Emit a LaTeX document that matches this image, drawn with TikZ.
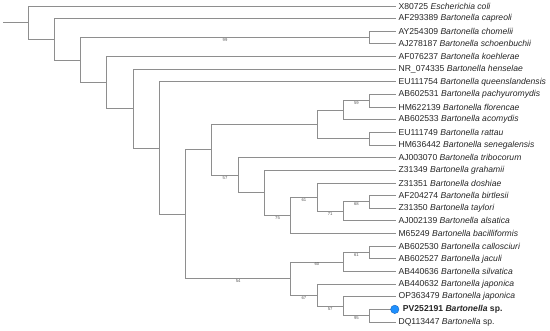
\documentclass[tikz,border=0pt]{standalone}
\usepackage{fontspec}
\setmainfont{Liberation Sans}
\definecolor{branch}{HTML}{8E8E8E}
\definecolor{txt}{HTML}{262626}
\definecolor{sup}{HTML}{5A5A5A}
\definecolor{dotfill}{HTML}{1E90FF}
\definecolor{dotline}{HTML}{1565C0}
\begin{document}
\begin{tikzpicture}[x=1pt,y=-1pt,
  br/.style={draw=branch,line width=0.9pt},
  leaf/.style={anchor=west,inner sep=2.6pt,text=txt,font=\fontsize{8.6}{10}\selectfont},
  supv/.style={pos=0.75,anchor=north,inner sep=0.6pt,text=sup,font=\fontsize{4.2}{5}\selectfont}]
\useasboundingbox (0,0) rectangle (550,330);
% leaf end points
\coordinate (l0) at (395.78,6.00);
\coordinate (l1) at (395.78,18.64);
\coordinate (l2) at (395.78,31.28);
\coordinate (l3) at (395.78,43.92);
\coordinate (l4) at (395.78,56.56);
\coordinate (l5) at (395.78,69.20);
\coordinate (l6) at (395.78,81.84);
\coordinate (l7) at (395.78,94.48);
\coordinate (l8) at (395.78,107.12);
\coordinate (l9) at (395.78,119.76);
\coordinate (l10) at (395.78,132.40);
\coordinate (l11) at (395.78,145.04);
\coordinate (l12) at (395.78,157.68);
\coordinate (l13) at (395.78,170.32);
\coordinate (l14) at (395.78,182.96);
\coordinate (l15) at (395.78,195.60);
\coordinate (l16) at (395.78,208.24);
\coordinate (l17) at (395.78,220.88);
\coordinate (l18) at (395.78,233.52);
\coordinate (l19) at (395.78,246.16);
\coordinate (l20) at (395.78,258.80);
\coordinate (l21) at (395.78,271.44);
\coordinate (l22) at (395.78,284.08);
\coordinate (l23) at (395.78,296.72);
\coordinate (l24) at (395.78,309.36);
\coordinate (l25) at (395.78,322.00);
% internal nodes
\coordinate (cs) at (369.51,37.60);
\coordinate (pf) at (369.51,100.80);
\coordinate (rs) at (369.51,138.72);
\coordinate (bt) at (369.51,201.92);
\coordinate (cj) at (369.51,252.48);
\coordinate (pd) at (369.51,315.68);
\coordinate (pfa) at (343.24,110.28);
\coordinate (bta) at (343.24,211.40);
\coordinate (cjs) at (343.24,261.96);
\coordinate (opd) at (343.24,306.20);
\coordinate (rod) at (316.97,124.50);
\coordinate (dbta) at (316.97,197.18);
\coordinate (jopd) at (316.97,295.14);
\coordinate (alsb) at (290.70,215.35);
\coordinate (bot) at (290.70,278.55);
\coordinate (gr) at (264.43,192.84);
\coordinate (tr) at (238.16,175.26);
\coordinate (n212) at (211.89,149.88);
\coordinate (n186) at (185.62,214.20);
\coordinate (n160) at (159.35,148.02);
\coordinate (n134) at (133.08,108.61);
\coordinate (n107) at (106.81,82.59);
\coordinate (n81) at (80.54,60.10);
\coordinate (n55) at (54.27,39.37);
\coordinate (n28) at (28.00,22.68);
\coordinate (root) at (3.00,22.68);
% branches
\draw[br] (root) -- (n28);
\draw[br] (n28) |- (l0);
\draw[br] (n28) |- (n55);
\draw[br] (n55) |- (l1);
\draw[br] (n55) |- (n81);
\draw[br] (n81) |- node[supv]{99} (cs);
\draw[br] (n81) |- (n107);
\draw[br] (cs) |- (l2);
\draw[br] (cs) |- (l3);
\draw[br] (n107) |- (l4);
\draw[br] (n107) |- (n134);
\draw[br] (n134) |- (l5);
\draw[br] (n134) |- (n160);
\draw[br] (n160) |- (l6);
\draw[br] (n160) |- (n186);
\draw[br] (n186) |- (n212);
\draw[br] (n186) |- node[supv]{54} (bot);
\draw[br] (n212) |- (rod);
\draw[br] (n212) |- node[supv]{57} (tr);
\draw[br] (rod) |- (pfa);
\draw[br] (rod) |- (rs);
\draw[br] (pfa) |- node[supv]{59} (pf);
\draw[br] (pfa) |- (l9);
\draw[br] (pf) |- (l7);
\draw[br] (pf) |- (l8);
\draw[br] (rs) |- (l10);
\draw[br] (rs) |- (l11);
\draw[br] (tr) |- (l12);
\draw[br] (tr) |- (gr);
\draw[br] (gr) |- (l13);
\draw[br] (gr) |- node[supv]{75} (alsb);
\draw[br] (alsb) |- node[supv]{61} (dbta);
\draw[br] (alsb) |- (l18);
\draw[br] (dbta) |- (l14);
\draw[br] (dbta) |- node[supv]{71} (bta);
\draw[br] (bta) |- node[supv]{68} (bt);
\draw[br] (bta) |- (l17);
\draw[br] (bt) |- (l15);
\draw[br] (bt) |- (l16);
\draw[br] (bot) |- node[supv]{60} (cjs);
\draw[br] (bot) |- node[supv]{67} (jopd);
\draw[br] (cjs) |- node[supv]{61} (cj);
\draw[br] (cjs) |- (l21);
\draw[br] (cj) |- (l19);
\draw[br] (cj) |- (l20);
\draw[br] (jopd) |- (l22);
\draw[br] (jopd) |- node[supv]{57} (opd);
\draw[br] (opd) |- (l23);
\draw[br] (opd) |- node[supv]{95} (pd);
\draw[br] (pd) |- (l24);
\draw[br] (pd) |- (l25);
% leaf labels
\node[leaf] (t0) at (l0) {X80725 \textit{Escherichia coli}};
\node[leaf] (t1) at (l1) {AF293389 \textit{Bartonella capreoli}};
\node[leaf] (t2) at (l2) {AY254309 \textit{Bartonella chomelii}};
\node[leaf] (t3) at (l3) {AJ278187 \textit{Bartonella schoenbuchii}};
\node[leaf] (t4) at (l4) {AF076237 \textit{Bartonella koehlerae}};
\node[leaf] (t5) at (l5) {NR\_074335 \textit{Bartonella henselae}};
\node[leaf] (t6) at (l6) {EU111754 \textit{Bartonella queenslandensis}};
\node[leaf] (t7) at (l7) {AB602531 \textit{Bartonella pachyuromydis}};
\node[leaf] (t8) at (l8) {HM622139 \textit{Bartonella florencae}};
\node[leaf] (t9) at (l9) {AB602533 \textit{Bartonella acomydis}};
\node[leaf] (t10) at (l10) {EU111749 \textit{Bartonella rattau}};
\node[leaf] (t11) at (l11) {HM636442 \textit{Bartonella senegalensis}};
\node[leaf] (t12) at (l12) {AJ003070 \textit{Bartonella tribocorum}};
\node[leaf] (t13) at (l13) {Z31349 \textit{Bartonella grahamii}};
\node[leaf] (t14) at (l14) {Z31351 \textit{Bartonella doshiae}};
\node[leaf] (t15) at (l15) {AF204274 \textit{Bartonella birtlesii}};
\node[leaf] (t16) at (l16) {Z31350 \textit{Bartonella taylori}};
\node[leaf] (t17) at (l17) {AJ002139 \textit{Bartonella alsatica}};
\node[leaf] (t18) at (l18) {M65249 \textit{Bartonella bacilliformis}};
\node[leaf] (t19) at (l19) {AB602530 \textit{Bartonella callosciuri}};
\node[leaf] (t20) at (l20) {AB602527 \textit{Bartonella jaculi}};
\node[leaf] (t21) at (l21) {AB440636 \textit{Bartonella silvatica}};
\node[leaf] (t22) at (l22) {AB440632 \textit{Bartonella japonica}};
\node[leaf] (t23) at (l23) {OP363479 \textit{Bartonella japonica}};
\node[circle,fill=dotfill,draw=dotline,line width=0.4pt,minimum size=8.4pt,inner sep=0pt] (dot) at ([xshift=-1pt]l24) {};
\node[leaf,inner sep=0pt,xshift=7pt] (t24) at (l24) {\textbf{PV252191 \textit{Bartonella} sp.}};
\node[leaf] (t25) at (l25) {DQ113447 \textit{Bartonella} sp.};
\end{tikzpicture}
\end{document}
